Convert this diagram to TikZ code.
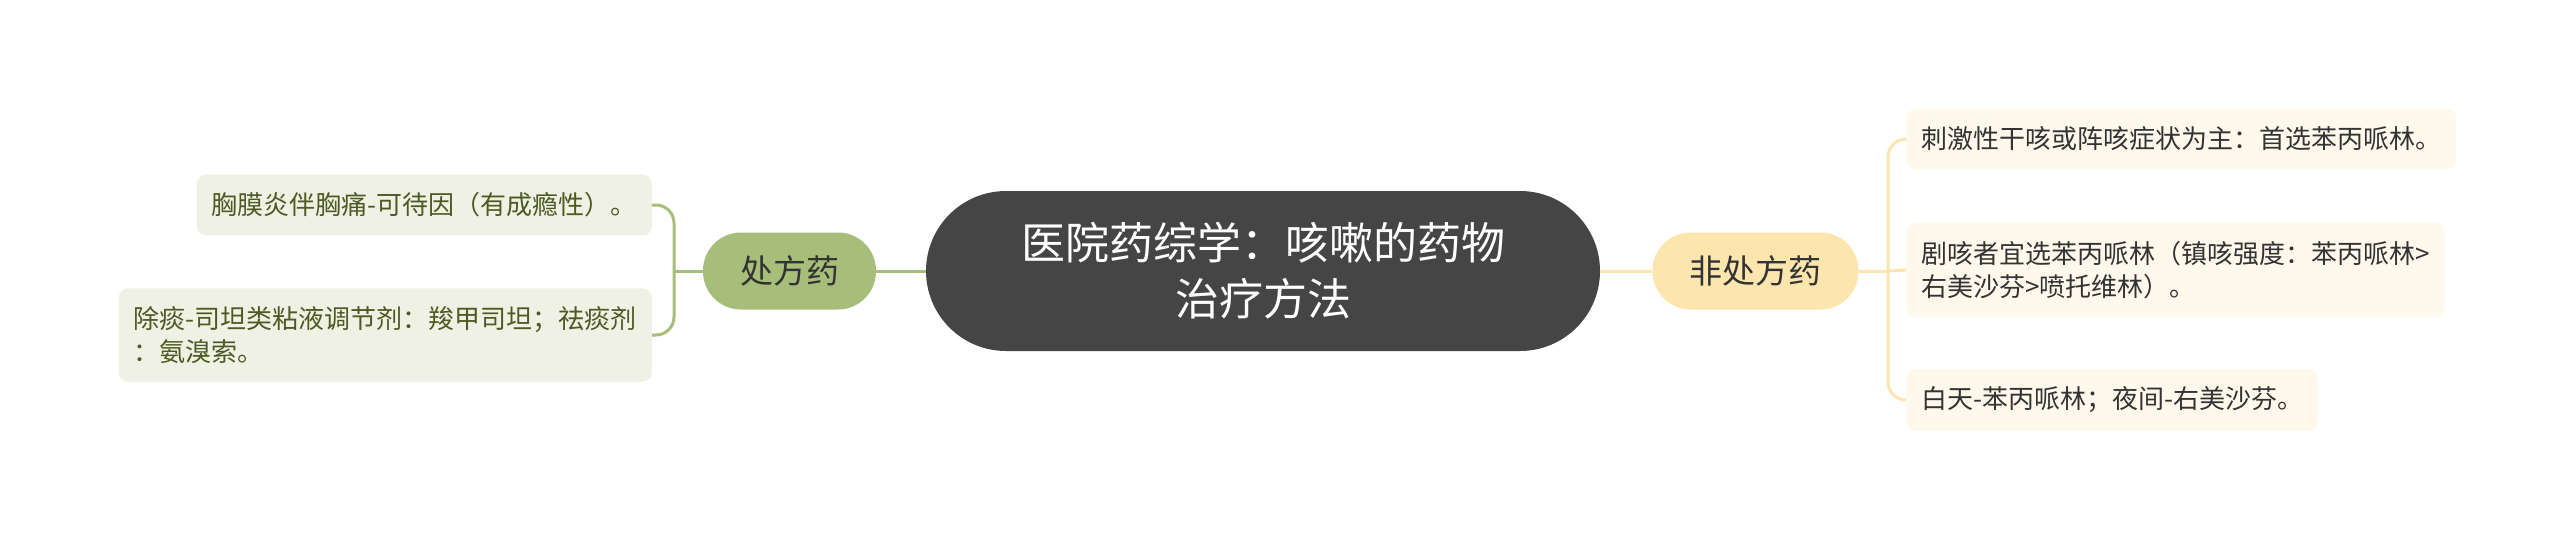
\documentclass[tikz,border=0pt]{standalone}
\usepackage{fontspec}
\setmainfont{Noto Sans CJK SC}
\definecolor{rootgray}{HTML}{454545}
\definecolor{rxgreen}{HTML}{A6BE7A}
\definecolor{rxleaf}{HTML}{EEF1E3}
\definecolor{rxtext}{HTML}{4E5A24}
\definecolor{otcyellow}{HTML}{FDE5AE}
\definecolor{otcleaf}{HTML}{FEF9EC}
\definecolor{darktext}{HTML}{333333}
\tikzset{root/.style={fill=rootgray,text=white,rounded corners=80pt,minimum width=674pt,minimum height=160pt,align=center,font=\fontsize{44}{56}\selectfont}}
\tikzset{branch/.style={rounded corners=38pt,inner xsep=37pt,minimum height=77pt,text=darktext,font=\fontsize{33}{40}\selectfont}}
\tikzset{leaf/.style={rounded corners=9pt,inner xsep=15pt,inner ysep=18pt,minimum height=58pt,align=left,font=\fontsize{26}{33}\selectfont}}
\tikzset{rxline/.style={draw=rxgreen,line width=3pt}}
\tikzset{otcline/.style={draw=otcyellow,line width=3pt}}
\begin{document}
\begin{tikzpicture}
[x=1pt,y=-1pt]
\useasboundingbox (0,0) rectangle (2560,541);
\node (root) at (1263,271)[root]{医院药综学：咳嗽的药物\\治疗方法};
\node (rx) at (789.5,271)[branch,fill=rxgreen]{处方药};
\node (otc) at (1755.5,271)[branch,fill=otcyellow]{非处方药};
\coordinate (rxfork) at (674,271);
\coordinate (otcfork) at (1888,271);
\node (rx1) at (652,205)[leaf,anchor=east,fill=rxleaf,text=rxtext]{胸膜炎伴胸痛-可待因（有成瘾性）。};
\node (rx2) at (652,335)[leaf,anchor=east,fill=rxleaf,text=rxtext]{除痰-司坦类粘液调节剂：羧甲司坦；祛痰剂\\：氨溴索。};
\node (otc1) at (1906,139)[leaf,anchor=west,fill=otcleaf,text=darktext]{刺激性干咳或阵咳症状为主：首选苯丙哌林。};
\node (otc2) at (1906,270)[leaf,anchor=west,fill=otcleaf,text=darktext]{剧咳者宜选苯丙哌林（镇咳强度：苯丙哌林>\\右美沙芬>喷托维林）。};
\node (otc3) at (1906,400)[leaf,anchor=west,fill=otcleaf,text=darktext]{白天-苯丙哌林；夜间-右美沙芬。};

\draw[rxline] (root) -- (rx);
\draw[rxline] (rx) -- (rxfork);
\draw[rxline,rounded corners=18pt] (rx1.east) -| (rxfork) |- (rx2.east);
\draw[otcline] (root) -- (otc);
\draw[otcline] (otc) -- (otcfork);
\draw[otcline,rounded corners=18pt] (otc1.west) -| (otcfork) |- (otc3.west);
\draw[otcline] (otcfork) -- (otc2.west);
\end{tikzpicture}
\end{document}
